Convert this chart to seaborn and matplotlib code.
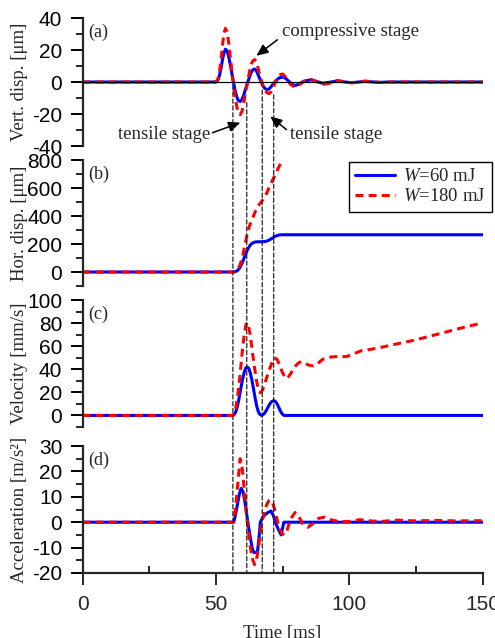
import matplotlib
matplotlib.use("Agg")
import matplotlib.pyplot as plt
import seaborn as sns
import pandas as pd
from matplotlib.ticker import MultipleLocator
from matplotlib.patches import ConnectionPatch

# ---------------- data ----------------
# (a) vertical displacement [um]
t_vert = [0, 50, 50.5, 51, 51.5, 52, 52.5, 53, 53.6, 54.2,
          54.8, 55.4, 56, 56.6, 57.2, 57.8, 58.4, 59.1, 59.8, 60.5,
          61.2, 62, 62.7, 63.4, 64, 64.6, 65.2, 65.8, 66.4, 67,
          67.7, 68.4, 69.2, 70, 70.8, 71.5, 72.2, 73, 73.8, 75,
          76, 77, 78, 79.5, 81, 83, 85.7, 88, 90, 92.5,
          95.6, 98.5, 101, 103.5, 106, 109, 112, 115, 150]
vert_60 = [0, 0, 0.5, 2, 5, 9, 14, 18, 20.5, 19.5,
           16, 11, 5.5, 0, -5, -9, -11.5, -12.2, -11, -8,
           -4, 0, 3.5, 6.5, 7.8, 8.1, 7, 4.8, 2.3, 0,
           -2.5, -4, -4.8, -4.3, -2.8, -1.2, 0, 1.5, 2.6, 3.1,
           2.5, 1, -0.5, -2.3, -1.5, 0.5, 1.4, 0.3, -0.8, -0.2,
           0.7, 0, -0.4, 0, 0.4, 0, -0.2, 0, 0]
vert_180 = [0, 0, 1, 3, 8, 15, 23, 30, 33.5, 31.5,
            25, 16, 7, -1, -9, -15, -19, -20.5, -18.5, -13,
            -6, 1, 7, 11.5, 13.5, 14, 12.5, 9, 5, 1.5,
            -2.5, -5, -6.8, -7.2, -6, -3.5, -0.5, 2.5, 4.5, 5,
            3.5, 1, -1.5, -3.1, -2, 0.3, 1.6, 0, -1.6, -0.8,
            0.9, 0.1, -0.6, 0, 0.6, 0, -0.3, 0, 0]

# (b) horizontal displacement [um]
t_hor_60 = [0, 56.5, 57, 58, 59, 60, 61, 62, 63, 64, 65, 66, 67, 68, 69, 70,
            71, 72, 73, 74, 75, 150]
hor_60 = [0, 0, 1, 8, 30, 70, 120, 165, 195, 210, 215, 216, 216, 217, 220, 228,
          240, 252, 261, 265, 266, 266]
t_hor_180 = [0, 56.5, 57, 58, 59, 60, 61, 62, 63, 64, 65, 66, 67, 68, 69, 70,
             71, 72, 73, 74, 75, 76]
hor_180 = [0, 0, 2, 15, 45, 110, 200, 290, 350, 395, 440, 475, 500, 525, 560, 605,
           645, 685, 725, 765, 805, 845]

# (c) velocity [mm/s]
t_vel_60 = [0, 56.4, 57, 57.6, 58.2, 58.8, 59.4, 60, 60.6, 61.2,
            61.7, 62.3, 62.9, 63.5, 64.1, 64.7, 65.3, 65.9, 66.5, 67.2,
            67.9, 68.6, 69.3, 70, 70.7, 71.4, 72, 72.6, 73.2, 73.8,
            74.4, 75, 75.6, 150]
vel_60 = [0, 0, 1, 4, 9, 16, 24, 31, 37, 41,
          42, 41, 37, 31, 23.5, 15.5, 8.5, 3.5, 1, 0,
          1, 3, 6, 9, 11.5, 12.7, 12.7, 11.5, 9, 6,
          3, 1, 0, 0]
t_vel_180 = [0, 56.4, 57, 57.6, 58.2, 58.8, 59.4, 60, 60.6, 61.2,
             61.6, 62.2, 62.8, 63.4, 64, 64.6, 65.2, 65.8, 66.7, 67.5,
             68.3, 69.1, 70, 71, 72, 73, 74, 75, 76, 76.8,
             78, 79.5, 81, 82, 83.5, 85, 86.5, 88, 90, 92.5,
             95.5, 99, 104.5, 110, 115, 120, 125, 130, 135, 140,
             145, 150]
vel_180 = [0, 0, 2, 8, 17, 29, 43, 57, 69, 77.5,
           80.5, 78, 71, 61, 50, 40, 31, 24, 19.7, 22,
           27, 33, 39, 45.5, 50, 48.5, 43, 37, 33, 32,
           36, 42, 45.5, 46.6, 45, 43.5, 43, 44.5, 48.5, 50.5,
           51, 51, 56, 58, 60.5, 63, 65.5, 68.5, 71.5, 74.5,
           77.5, 80]

# (d) acceleration [m/s^2]
t_acc_60 = [0, 56.7, 57.4, 58.1, 58.8, 59.5, 60.2, 60.9, 61.6, 62.3,
            63, 63.7, 64.3, 65.6, 66.2, 66.7, 67.5, 68.5, 69.5, 70.7,
            71.6, 72.5, 73.5, 74.5, 75.5, 150]
acc_60 = [0, 0, 3, 7, 11, 13.3, 12, 8, 3, -2,
          -6.5, -10.5, -12, -11.8, -6, 0, 1.8, 3, 3.8, 4.4,
          2.5, -0.5, -3, -5, 0, 0]
t_acc_180 = [0, 56.7, 57.3, 57.9, 58.5, 59.1, 59.7, 60.3, 60.9, 61.5,
             62.1, 62.7, 63.3, 63.9, 64.5, 65.1, 65.7, 66.3, 66.9, 67.5,
             68.3, 69.1, 69.9, 70.7, 71.5, 72.3, 73.1, 73.9, 74.8, 75.7,
             76.6, 77.5, 78.5, 79.7, 81, 82.5, 84.5, 86.5, 88.5, 90.7,
             93, 96, 100, 104, 108, 112, 118, 125, 132, 140,
             150]
acc_180 = [0, 0, 5, 11, 18, 25, 23, 17, 10, 3,
           -3, -8, -12, -15, -16.7, -15.5, -12, -7.5, -3, 1,
           4.5, 7, 8.5, 8.7, 7, 4, 0.5, -2.5, -4.5, -5,
           -3.5, -0.5, 2, 3.8, 2.5, -0.5, -2, -0.5, 1.5, 2,
           1, 0.3, 0.3, 1, 0.5, 0.3, 0.8, 0.5, 0.7, 0.5,
           0.6]

stage_times = [56.4, 61.6, 67.4, 71.7]
stage_start = [-2, -13, -5, -8]

legend_labels = ["$W$=60 mJ", "$W$=180 mJ"]
panel_tags = ["(a)", "(b)", "(c)", "(d)"]
y_labels = ["Vert. disp. [\u03bcm]", "Hor. disp. [\u03bcm]",
            "Velocity [mm/s]", "Acceleration [m/s\u00b2]"]

# ---------------- style ----------------
sns.set_style("ticks")
plt.rcParams["font.family"] = ["Liberation Sans", "DejaVu Sans"]
plt.rcParams["axes.unicode_minus"] = False
plt.rcParams["mathtext.fontset"] = "custom"
plt.rcParams["mathtext.rm"] = "Liberation Serif"
plt.rcParams["mathtext.it"] = "Liberation Serif:italic"
SERIF = ["Liberation Serif", "DejaVu Serif"]

W, H = 495, 638
fig = plt.figure(figsize=(W / 100, H / 100), dpi=100)
fig.patch.set_facecolor("white")

left = 82.5 / W
width = 400 / W
boxes = [(18, 146), (160, 286), (300, 427), (446, 573)]
axes = []
for top, bot in boxes:
    ax = fig.add_axes([left, (H - bot) / H, width, (bot - top) / H])
    ax.set_facecolor("none")
    axes.append(ax)
ax_a, ax_b, ax_c, ax_d = axes

BLUE = "#0000FF"
RED = "#FF0000"
LW = 2.2
RED_LS = (0, (2.6, 1.7))

series = [
    (ax_a, t_vert, vert_60, t_vert, vert_180),
    (ax_b, t_hor_60, hor_60, t_hor_180, hor_180),
    (ax_c, t_vel_60, vel_60, t_vel_180, vel_180),
    (ax_d, t_acc_60, acc_60, t_acc_180, acc_180),
]
for ax, tb, vb, tr, vr in series:
    sns.lineplot(x=tb, y=vb, ax=ax, color=BLUE, linewidth=LW, zorder=2)
    sns.lineplot(x=tr, y=vr, ax=ax, color=RED, linewidth=LW, linestyle=RED_LS, zorder=2.5)

ax_a.axhline(0, color="black", lw=0.9, zorder=3)

ylims = [(-40, 40), (-100, 800), (-10, 100), (-20, 30)]
majors = [20, 200, 20, 10]
minors = [10, 100, 10, 5]
for i, ax in enumerate(axes):
    ax.set_xlim(0, 150)
    ax.set_ylim(*ylims[i])
    ax.yaxis.set_major_locator(MultipleLocator(majors[i]))
    ax.yaxis.set_minor_locator(MultipleLocator(minors[i]))
    for s in ["top", "right", "bottom"]:
        ax.spines[s].set_visible(False)
    ax.spines["left"].set_linewidth(1.6)
    ax.tick_params(axis="y", which="major", direction="out", length=8.5, width=1.4,
                   labelsize=15, pad=6, colors="black")
    ax.tick_params(axis="y", which="minor", direction="out", length=4.8, width=1.4,
                   left=True)
    ax.tick_params(axis="x", which="both", bottom=False, labelbottom=False)
    ax.set_ylabel(y_labels[i], fontfamily=SERIF, fontsize=13.5)
    ax.yaxis.set_label_coords(-0.137, 0.5)
    ax.set_xlabel("")
    ax.text(0.015, 0.89, panel_tags[i], transform=ax.transAxes, ha="left",
            va="center", fontfamily=SERIF, fontsize=13)

ax_d.spines["bottom"].set_visible(True)
ax_d.spines["bottom"].set_linewidth(1.6)
ax_d.xaxis.set_major_locator(MultipleLocator(50))
ax_d.xaxis.set_minor_locator(MultipleLocator(25))
ax_d.tick_params(axis="x", which="major", bottom=True, labelbottom=True,
                 direction="out", length=8.5, width=1.4, labelsize=15, pad=7)
ax_d.tick_params(axis="x", which="minor", bottom=True, direction="in",
                 length=4.8, width=1.4)
ax_d.set_xlabel("Time [ms]", fontfamily=SERIF, fontsize=13.5)
ax_d.xaxis.set_label_coords(0.5, -0.41)

# legend
h_blue, h_red = ax_b.lines[0], ax_b.lines[1]
leg = ax_b.legend([h_blue, h_red], legend_labels, loc="upper right",
                  bbox_to_anchor=(492 / W, 1 - 161.7 / H), bbox_transform=fig.transFigure,
                  frameon=True, fancybox=False, edgecolor="black", framealpha=1,
                  prop={"family": SERIF, "size": 13.5}, handlelength=2.1,
                  handletextpad=0.45, labelspacing=0.15, borderpad=0.35,
                  borderaxespad=0)
leg.get_frame().set_linewidth(1.0)

# annotations in panel (a)
arrow_kw = dict(arrowstyle="-|>,head_length=0.5,head_width=0.22", color="black",
                lw=1.1, mutation_scale=14, shrinkA=0, shrinkB=0)
ax_a.annotate("", xy=(65.2, 16.4), xytext=(73.1, 26.4), arrowprops=arrow_kw)
ax_a.annotate("", xy=(59.2, -25.4), xytext=(48.75, -31.7), arrowprops=arrow_kw)
ax_a.annotate("", xy=(70.4, -21.5), xytext=(76.5, -29.8), arrowprops=arrow_kw)
ax_a.text(75.0, 31.6, "compressive stage", ha="left", va="center",
          fontfamily=SERIF, fontsize=13.5)
ax_a.text(48.0, -32.9, "tensile stage", ha="right", va="center",
          fontfamily=SERIF, fontsize=13.5)
ax_a.text(78.0, -32.9, "tensile stage", ha="left", va="center",
          fontfamily=SERIF, fontsize=13.5)

# stage boundary lines spanning all panels
for ts, ys in zip(stage_times, stage_start):
    con = ConnectionPatch(xyA=(ts, ys), coordsA="data", axesA=ax_a,
                          xyB=(ts, -20), coordsB="data", axesB=ax_d,
                          color="#222222", lw=0.9, linestyle=(0, (3.5, 2.0)))
    fig.add_artist(con)

fig.savefig("out.png", dpi=100, facecolor="white")
